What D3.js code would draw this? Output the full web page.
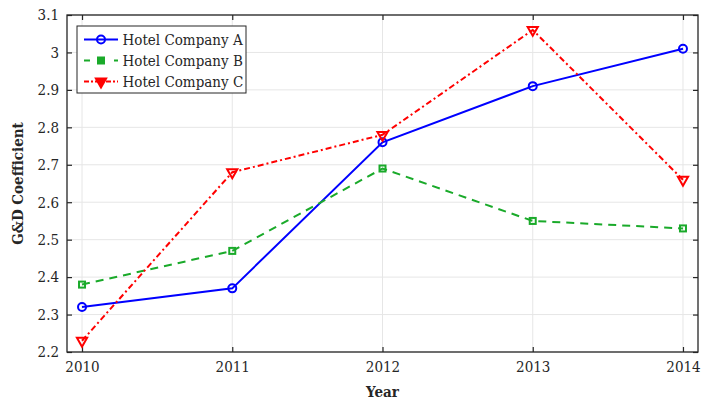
<!DOCTYPE html>
<html>
<head>
<meta charset="utf-8">
<script src="https://cdn.jsdelivr.net/npm/d3@7"></script>
<style>
  body { margin: 0; background: #fff; }
  svg text { font-family: "DejaVu Serif Condensed", "DejaVu Serif", serif; font-stretch: condensed; fill: #262626; }
</style>
</head>
<body>
<div id="chart"></div>
<script>
// data
const years = [2010, 2011, 2012, 2013, 2014];
const companyA = [2.32, 2.37, 2.76, 2.91, 3.01];
const companyB = [2.38, 2.47, 2.69, 2.55, 2.53];
const companyC = [2.23, 2.68, 2.78, 3.06, 2.66];
const seriesNames = ["Hotel Company A", "Hotel Company B", "Hotel Company C"];
const yTicks = [2.2, 2.3, 2.4, 2.5, 2.6, 2.7, 2.8, 2.9, 3, 3.1];

const W = 701, H = 401;
const margin = { top: 15, right: 3, bottom: 49, left: 67 };
const width = W - margin.left - margin.right;
const height = H - margin.top - margin.bottom;
const FONT = '"DejaVu Serif Condensed", "DejaVu Serif", serif';

const svg = d3.select("#chart").append("svg")
  .attr("width", W).attr("height", H);
const g = svg.append("g").attr("transform", `translate(${margin.left},${margin.top})`);

const x = d3.scaleLinear().domain([2009.9, 2014.1]).range([0, width]);
const y = d3.scaleLinear().domain([2.2, 3.1]).range([height, 0]);

// grid
g.append("g").selectAll("line").data(years).join("line")
  .attr("x1", d => x(d)).attr("x2", d => x(d))
  .attr("y1", 0).attr("y2", height)
  .attr("stroke", "#e6e6e6").attr("stroke-width", 1);
g.append("g").selectAll("line").data(yTicks).join("line")
  .attr("y1", d => y(d)).attr("y2", d => y(d))
  .attr("x1", 0).attr("x2", width)
  .attr("stroke", "#e6e6e6").attr("stroke-width", 1);

// axes with inward ticks
const fmtY = d => d3.format("")(+d.toFixed(1));
const styleAxis = sel => {
  sel.select(".domain").remove();
  sel.selectAll("line").attr("stroke", "#262626").attr("stroke-width", 1.2);
  sel.selectAll("text").attr("font-size", "15px").attr("fill", "#262626")
    .style("font-family", FONT).style("font-stretch", "condensed");
};
g.append("g").attr("transform", `translate(0,${height})`)
  .call(d3.axisBottom(x).tickValues(years).tickFormat(d3.format("d")).tickSize(-5).tickPadding(9))
  .call(styleAxis);
g.append("g")
  .call(d3.axisTop(x).tickValues(years).tickSize(-5).tickFormat(""))
  .call(styleAxis);
g.append("g")
  .call(d3.axisLeft(y).tickValues(yTicks).tickFormat(fmtY).tickSize(-5).tickPadding(8))
  .call(styleAxis);
g.append("g").attr("transform", `translate(${width},0)`)
  .call(d3.axisRight(y).tickValues(yTicks).tickSize(-5).tickFormat(""))
  .call(styleAxis);

g.append("rect").attr("width", width).attr("height", height)
  .attr("fill", "none").attr("stroke", "#262626").attr("stroke-width", 1.3);

// series
const series = [
  { name: seriesNames[0], values: companyA, color: "#0000ff", dash: null, marker: "circle" },
  { name: seriesNames[1], values: companyB, color: "#1aaa2a", dash: "8,6", marker: "square" },
  { name: seriesNames[2], values: companyC, color: "#ff0000", dash: "6,3,2,3", marker: "triangle" }
];

const line = d3.line().x(d => x(d[0])).y(d => y(d[1]));

function drawMarker(sel, s, px, py, legend) {
  if (s.marker === "circle") {
    sel.append("circle").attr("cx", px).attr("cy", py).attr("r", 4)
      .attr("fill", "none").attr("stroke", s.color).attr("stroke-width", 2);
  } else if (s.marker === "square") {
    sel.append("rect").attr("x", px - 3).attr("y", py - 3).attr("width", 6).attr("height", 6)
      .attr("fill", legend ? s.color : "none").attr("stroke", s.color).attr("stroke-width", 2);
  } else {
    const sym = d3.symbol().type(d3.symbolTriangle).size(45);
    sel.append("path").attr("d", sym())
      .attr("transform", `translate(${px},${py}) rotate(180)`)
      .attr("fill", legend ? s.color : "none").attr("stroke", s.color).attr("stroke-width", 2);
  }
}

series.forEach(s => {
  const pts = years.map((yr, i) => [yr, s.values[i]]);
  g.append("path").datum(pts)
    .attr("d", line).attr("fill", "none")
    .attr("stroke", s.color).attr("stroke-width", 2)
    .attr("stroke-dasharray", s.dash);
  const mg = g.append("g");
  pts.forEach(p => drawMarker(mg, s, x(p[0]), y(p[1]), false));
});

// legend
const lg = svg.append("g").attr("transform", "translate(77,26)");
lg.append("rect").attr("width", 169).attr("height", 67)
  .attr("fill", "#fff").attr("stroke", "#262626").attr("stroke-width", 1);
series.forEach((s, i) => {
  const cy = 13.5 + i * 21;
  lg.append("line").attr("x1", 7).attr("x2", 41).attr("y1", cy).attr("y2", cy)
    .attr("stroke", s.color).attr("stroke-width", 2)
    .attr("stroke-dasharray", s.dash ? (s.marker === "square" ? "6,9" : "5,2,2,2") : null);
  drawMarker(lg, s, 24, cy, true);
  lg.append("text").attr("x", 45.5).attr("y", cy + 5)
    .attr("font-size", "15px").text(s.name);
});

// axis titles
svg.append("text")
  .attr("x", margin.left + width / 2).attr("y", 397)
  .attr("text-anchor", "middle").attr("font-size", "15px").attr("font-weight", "bold")
  .text("Year");
svg.append("text")
  .attr("transform", `translate(23,${margin.top + height / 2}) rotate(-90)`)
  .attr("text-anchor", "middle").attr("font-size", "15px").attr("font-weight", "bold")
  .text("G&D Coefficient");
</script>
</body>
</html>
